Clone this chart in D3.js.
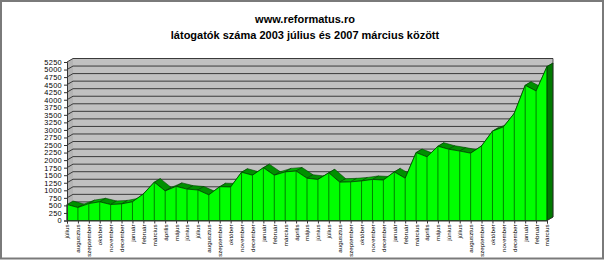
<!DOCTYPE html>
<html lang="hu">
  <head>
    <meta charset="UTF-8" />
    <title>www.reformatus.ro</title>
    <script src="https://d3js.org/d3.v7.min.js"></script>
    <style>
      body { margin: 0; background: #fff; }
      svg { display: block; font-family: "Liberation Sans", Arial, sans-serif; }
    </style>
  </head>
  <body>
    <svg id="chart" width="605" height="261"></svg>
  </body>

  <script>
    // visitors per month, 2003 július .. 2007 március
    const months = [
      "július", "augusztus", "szeptember", "október", "november", "december",
      "január", "február", "március", "április", "május", "június",
      "július", "augusztus", "szeptember", "október", "november", "december",
      "január", "február", "március", "április", "május", "június",
      "július", "augusztus", "szeptember", "október", "november", "december",
      "január", "február", "március", "április", "május", "június",
      "július", "augusztus", "szeptember", "október", "november", "december",
      "január", "február", "március"
    ];
    const visitors = [
      530, 430, 560, 620, 530, 550, 620, 880, 1270, 980, 1130, 1040,
      1010, 850, 1120, 1110, 1600, 1500, 1750, 1500, 1610, 1640, 1400, 1360,
      1580, 1270, 1280, 1310, 1360, 1340, 1610, 1400, 2250, 2110, 2460, 2360,
      2300, 2230, 2470, 2960, 3100, 3550, 4480, 4290, 5100
    ];
    const yTicks = d3.range(0, 5251, 250);
    const titleLines = ["www.reformatus.ro", "látogatók száma 2003 július és 2007 március között"];

    const svg = d3.select("#chart");
    const dx = 6, dy = -3.5; // 3d depth offset

    const x = d3.scalePoint().domain(d3.range(visitors.length)).range([67, 547]);
    const y = d3.scaleLinear().domain([0, 5250]).range([220.5, 62]);

    // frame
    svg.append("rect")
      .attr("x", 1).attr("y", 1).attr("width", 602).attr("height", 257.5)
      .attr("fill", "#fff").attr("stroke", "#7a7a7a").attr("stroke-width", 2);

    // titles
    svg.selectAll("text.title")
      .data(titleLines)
      .join("text")
      .attr("class", "title")
      .attr("x", 305)
      .attr("y", (d, i) => 23 + i * 16)
      .attr("text-anchor", "middle")
      .attr("font-size", 11)
      .attr("font-weight", "bold")
      .text(d => d);

    const x0 = x(0), x1 = x(visitors.length - 1);
    const yb = y(0), yt = y(5250);

    // back wall, side wall, floor
    svg.append("rect")
      .attr("x", x0 + dx).attr("y", yt + dy)
      .attr("width", x1 - x0).attr("height", yb - yt)
      .attr("fill", "#c0c0c0");
    svg.append("path")
      .attr("d", `M${x0},${yb}L${x0},${yt}L${x0 + dx},${yt + dy}L${x0 + dx},${yb + dy}Z`)
      .attr("fill", "#b4b4b4");
    svg.append("path")
      .attr("d", `M${x0},${yb}L${x1},${yb}L${x1 + dx},${yb + dy}L${x0 + dx},${yb + dy}Z`)
      .attr("fill", "#a8a8a8");

    // gridlines
    svg.append("g")
      .selectAll("path")
      .data(yTicks)
      .join("path")
      .attr("d", v => `M${x0},${y(v)}L${x0 + dx},${y(v) + dy}L${x1 + dx},${y(v) + dy}`)
      .attr("fill", "none")
      .attr("stroke", "#3a3a3a")
      .attr("stroke-width", 1);

    // top ribbon of the area
    const pts = visitors.map((v, i) => [x(i), y(v)]);
    svg.append("g")
      .selectAll("path")
      .data(d3.pairs(pts))
      .join("path")
      .attr("d", ([a, b]) =>
        `M${a[0]},${a[1]}L${b[0]},${b[1]}L${b[0] + dx},${b[1] + dy}L${a[0] + dx},${a[1] + dy}Z`)
      .attr("fill", ([a, b]) => (b[1] < a[1] ? "#00b000" : "#009000"))
      .attr("stroke", "#004400")
      .attr("stroke-width", 0.6);

    // right end face
    const last = pts[pts.length - 1];
    svg.append("path")
      .attr("d", `M${last[0]},${last[1]}L${last[0]},${yb}L${last[0] + dx},${yb + dy}L${last[0] + dx},${last[1] + dy}Z`)
      .attr("fill", "#007a00")
      .attr("stroke", "#003300")
      .attr("stroke-width", 0.6);

    // front face
    const area = d3.area().x((d, i) => x(i)).y0(yb).y1(d => y(d));
    svg.append("path")
      .datum(visitors)
      .attr("d", area)
      .attr("fill", "#00ff00")
      .attr("stroke", "#004400")
      .attr("stroke-width", 0.8);

    svg.append("g")
      .selectAll("line")
      .data(visitors)
      .join("line")
      .attr("x1", (d, i) => x(i)).attr("x2", (d, i) => x(i))
      .attr("y1", d => y(d)).attr("y2", yb)
      .attr("stroke", "#006000")
      .attr("stroke-width", 0.8);

    // y axis
    const yAxis = svg.append("g")
      .attr("transform", `translate(${x0},0)`)
      .call(d3.axisLeft(y).tickValues(yTicks).tickFormat(d3.format("d")).tickSize(3).tickPadding(2));
    yAxis.select(".domain").attr("stroke", "#333");
    yAxis.selectAll(".tick line").attr("stroke", "#333");
    yAxis.selectAll("text")
      .attr("font-family", "Liberation Sans, Arial, sans-serif")
      .attr("font-size", 7.4)
      .attr("letter-spacing", 0.3)
      .attr("fill", "#000");

    // x axis
    const xAxis = svg.append("g")
      .attr("transform", `translate(0,${yb})`)
      .call(d3.axisBottom(x).tickSize(3).tickFormat(i => months[i]));
    xAxis.select(".domain").attr("stroke", "#333");
    xAxis.selectAll(".tick line").attr("stroke", "#333");
    xAxis.selectAll("text")
      .attr("font-family", "Liberation Sans, Arial, sans-serif")
      .attr("font-size", 6.2)
      .attr("fill", "#000")
      .attr("text-anchor", "end")
      .attr("transform", "rotate(-90)")
      .attr("x", -4)
      .attr("y", 0)
      .attr("dy", "0.32em");
    svg.append("path")
      .attr("d", `M${x1},${yb}L${x1 + dx},${yb + dy}L${x1 + dx},${yt + dy}`)
      .attr("fill", "none")
      .attr("stroke", "#333")
      .attr("stroke-width", 0.8);
  </script>
</html>
